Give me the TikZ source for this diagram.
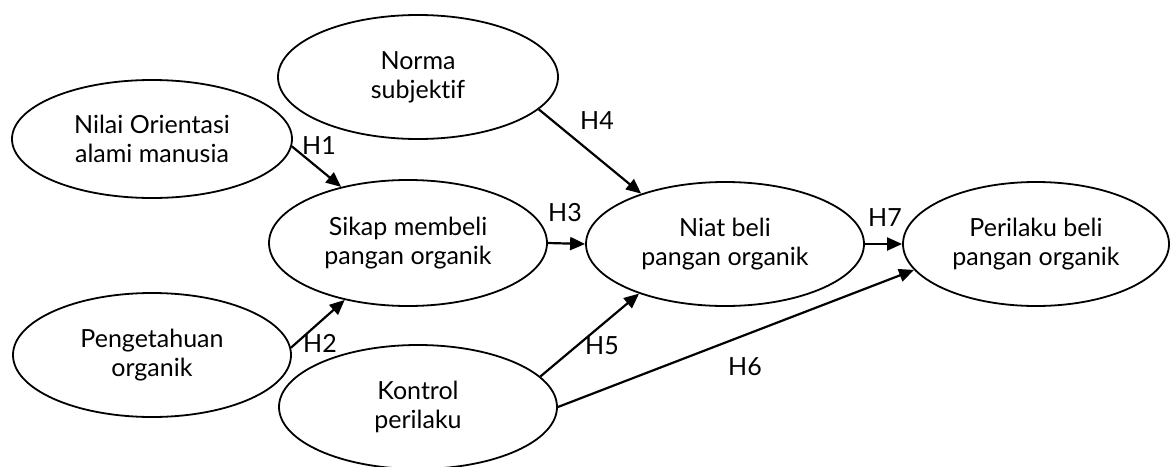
\documentclass[tikz,border=0pt]{standalone}
\usepackage{fontspec}
\setmainfont{Lato}[Ligatures={NoCommon}]
\usetikzlibrary{shapes.geometric,arrows.meta}
\begin{document}
\begin{tikzpicture}[x=0.5pt,y=-0.5pt,
  every node/.style={font=\fontsize{12.5pt}{14.5pt}\selectfont},
  var/.style={ellipse,draw,line width=0.9pt,inner sep=0pt,align=center},
  lbl/.style={inner sep=0pt},
  arr/.style={line width=1.1pt,-{Triangle[length=7.5pt,width=6.5pt]}}]
\useasboundingbox (0,0) rectangle (1171,466);
\node[var,minimum width=140pt,minimum height=59pt] (nilai) at (152,139) {Nilai Orientasi\\alami manusia};
\node[var,minimum width=140pt,minimum height=62pt] (norma) at (418,77) {Norma\\subjektif};
\node[var,minimum width=139pt,minimum height=63pt] (sikap) at (408,243) {Sikap membeli\\pangan organik};
\node[var,minimum width=139pt,minimum height=62pt] (niat) at (725,244) {Niat beli\\pangan organik};
\node[var,minimum width=133pt,minimum height=62pt] (perilaku) at (1036,244) {Perilaku beli\\pangan organik};
\node[var,minimum width=139pt,minimum height=62pt] (peng) at (152,355) {Pengetahuan\\organik};
\node[var,minimum width=139pt,minimum height=62pt] (kontrol) at (418,407) {Kontrol\\perilaku};
\draw[arr] (nilai.-3) -- (sikap.140);
\draw[arr] (peng.3) -- (sikap.222);
\draw[arr] (norma.-15) -- (niat.149);
\draw[arr] (sikap.east) -- (niat.west);
\draw[arr] (niat.east) -- (perilaku.west);
\draw[arr] (kontrol.14) -- (niat.210);
\draw[arr] (kontrol.east) -- (perilaku.192);
\node[lbl] (h1) at (319,146) {H1};
\node[lbl] (h2) at (320,343) {H2};
\node[lbl] (h3) at (565,213) {H3};
\node[lbl] (h4) at (597,121) {H4};
\node[lbl] (h5) at (602,346) {H5};
\node[lbl] (h6) at (745,367) {H6};
\node[lbl] (h7) at (885,218) {H7};
\end{tikzpicture}
\end{document}
